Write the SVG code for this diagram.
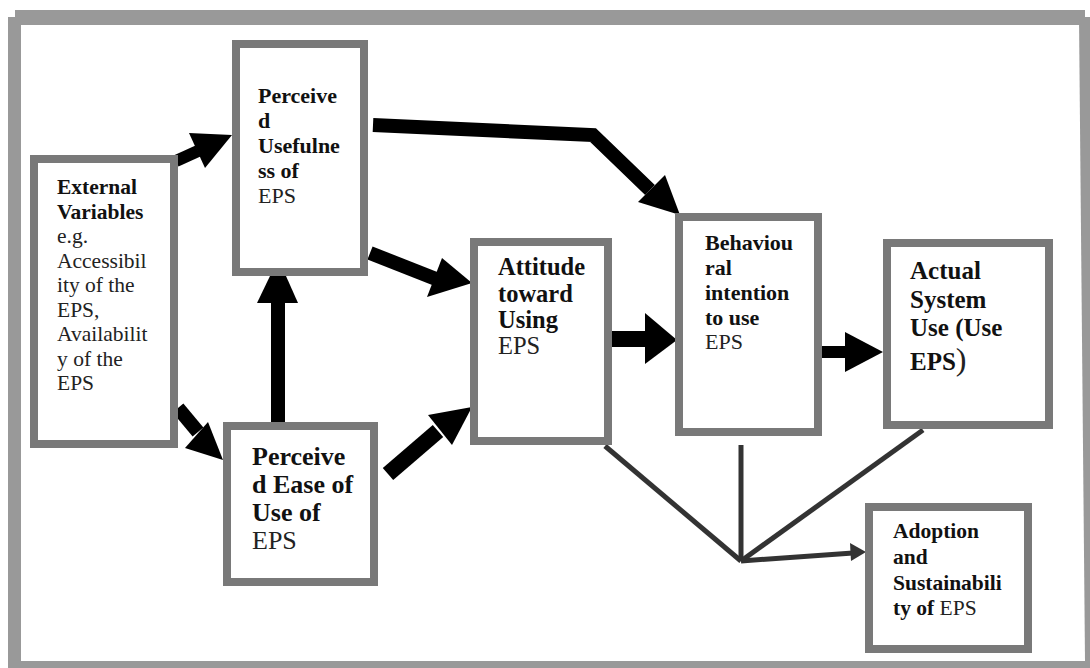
<svg xmlns="http://www.w3.org/2000/svg" width="1090" height="668" viewBox="0 0 1090 668">
<style>
.box{fill:#fff;stroke:#797979;stroke-width:8}
.frame{fill:#999}
text{font-family:'Liberation Serif','Times New Roman',serif;fill:#111}
.b{font-weight:bold}
.r{font-weight:normal;fill:#222}
.thick{fill:none;stroke:#000;stroke-linejoin:miter}
.head{fill:#000}
.thin{fill:none;stroke:#333;stroke-width:5}
</style>
<rect width="1090" height="668" fill="#fff"/>
<g id="frame">
<rect class="frame" x="15" y="10" width="1070" height="15"/>
<rect class="frame" x="8" y="17" width="13" height="651"/>
<rect class="frame" x="8" y="661" width="1082" height="7"/>
<polygon class="frame" points="1079,17 1090,17 1090,661 1085,661"/>
</g>
<g id="connectors">
<line class="thick" x1="176" y1="161" x2="198" y2="151" stroke-width="12"/>
<polygon class="head" points="189,133 232,135 205,168"/>
<line class="thick" x1="178" y1="408" x2="198" y2="432" stroke-width="14"/>
<polygon class="head" points="185,448 208,422 223,460"/>
<line class="thick" x1="278" y1="422" x2="278" y2="300" stroke-width="14"/>
<polygon class="head" points="257,303 298,303 286,276 270,276"/>
<line class="thick" x1="370" y1="253" x2="436" y2="279" stroke-width="14"/>
<polygon class="head" points="427,297 442,258 472,283"/>
<polyline class="thick" points="373,125 593,135 650,190" stroke-width="14"/>
<polygon class="head" points="638,202 665,175 680,215"/>
<line class="thick" x1="388" y1="474" x2="438" y2="431" stroke-width="16"/>
<polygon class="head" points="428,415 452,445 472,407"/>
<line class="thick" x1="612" y1="339" x2="647" y2="339" stroke-width="16"/>
<polygon class="head" points="645,313 645,364 677,340"/>
<line class="thick" x1="822" y1="352" x2="847" y2="352" stroke-width="12"/>
<polygon class="head" points="845,332 845,372 883,352"/>
<line class="thin" x1="605" y1="446" x2="741" y2="561"/>
<line class="thin" x1="741" y1="445" x2="741" y2="561"/>
<line class="thin" x1="923" y1="430" x2="741" y2="561"/>
<line class="thin" x1="741" y1="561" x2="853" y2="553"/>
<polygon fill="#333" points="850,543 866,552 851,561"/>
</g>
<g id="external">
<rect class="box" x="34" y="159" width="140" height="285"/>
<text font-size="21.5" x="57" y="194"><tspan class="b">External</tspan><tspan class="b" x="57" y="218.5">Variables</tspan><tspan class="r" x="57" y="243">e.g.</tspan><tspan class="r" x="57" y="267.5">Accessibil</tspan><tspan class="r" x="57" y="292">ity of the</tspan><tspan class="r" x="57" y="316.5">EPS,</tspan><tspan class="r" x="57" y="341">Availabilit</tspan><tspan class="r" x="57" y="365.5">y of the</tspan><tspan class="r" x="57" y="390">EPS</tspan></text>
</g>
<g id="usefulness">
<rect class="box" x="236" y="44" width="128" height="228"/>
<text font-size="22" x="258" y="103"><tspan class="b">Perceive</tspan><tspan class="b" x="258" y="128">d</tspan><tspan class="b" x="258" y="153">Usefulne</tspan><tspan class="b" x="258" y="178">ss of</tspan><tspan class="r" x="258" y="203">EPS</tspan></text>
</g>
<g id="ease">
<rect class="box" x="227" y="426" width="147" height="156"/>
<text font-size="26" x="252" y="465"><tspan class="b">Perceive</tspan><tspan class="b" x="252" y="493">d Ease of</tspan><tspan class="b" x="252" y="521">Use of</tspan><tspan class="r" x="252" y="549">EPS</tspan></text>
</g>
<g id="attitude">
<rect class="box" x="474" y="242" width="134" height="199"/>
<text font-size="24.5" x="498" y="275"><tspan class="b">Attitude</tspan><tspan class="b" x="498" y="301.5">toward</tspan><tspan class="b" x="498" y="328">Using</tspan><tspan class="r" x="498" y="354">EPS</tspan></text>
</g>
<g id="intention">
<rect class="box" x="679" y="217" width="139" height="215"/>
<text font-size="22" x="705" y="250"><tspan class="b">Behaviou</tspan><tspan class="b" x="705" y="275">ral</tspan><tspan class="b" x="705" y="300">intention</tspan><tspan class="b" x="705" y="325">to use</tspan><tspan class="r" x="705" y="349">EPS</tspan></text>
</g>
<g id="actual">
<rect class="box" x="887" y="243" width="162" height="182"/>
<text font-size="25" x="910" y="279"><tspan class="b">Actual</tspan><tspan class="b" x="910" y="307.5">System</tspan><tspan class="b" x="910" y="336">Use (Use</tspan><tspan class="b" x="910" y="370">EPS</tspan><tspan class="r" font-size="32" fill="#111">)</tspan></text>
</g>
<g id="adoption">
<rect class="box" x="869" y="507" width="159" height="142"/>
<text font-size="21.5" x="893" y="538"><tspan class="b">Adoption</tspan><tspan class="b" x="893" y="564">and</tspan><tspan class="b" x="893" y="590">Sustainabili</tspan><tspan class="b" x="893" y="615">ty of </tspan><tspan class="r">EPS</tspan></text>
</g>
</svg>
